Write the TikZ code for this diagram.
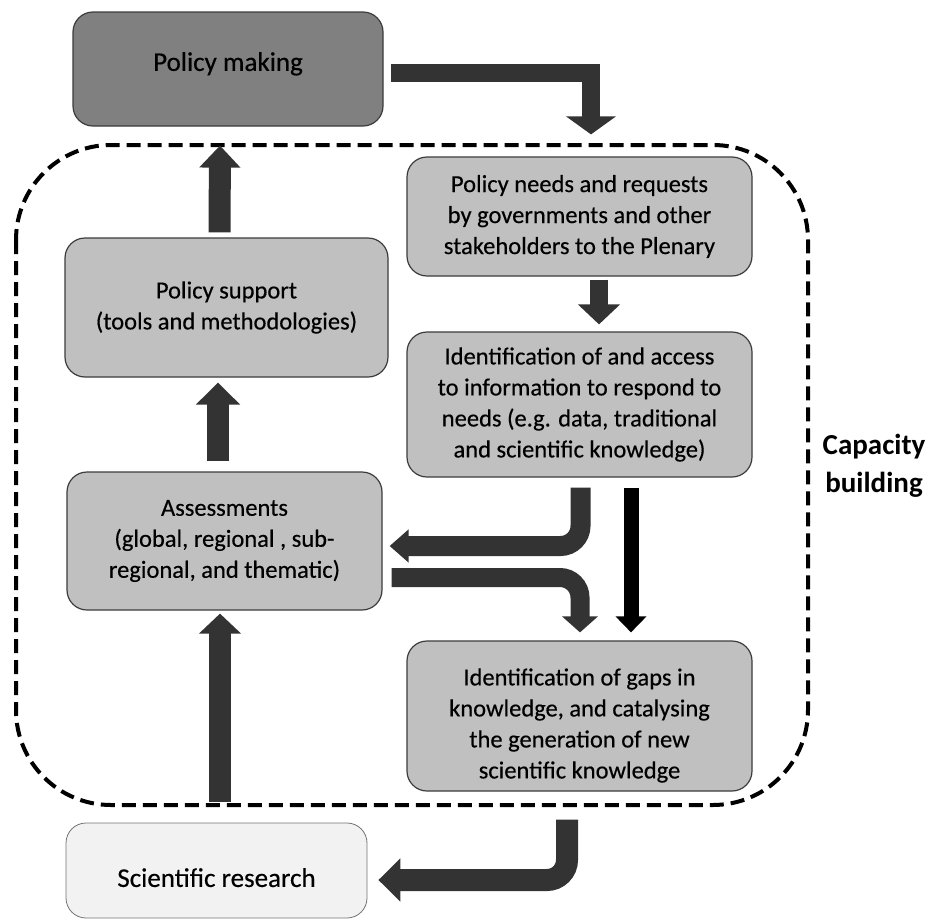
\documentclass[tikz,border=0pt]{standalone}
\usepackage{fontspec}
\setmainfont{Carlito}
\newfontfamily\boxfont{Carlito}[FakeBold=0.4]
\usetikzlibrary{arrows.meta}

\definecolor{arrowgray}{HTML}{333333}
\definecolor{darkbox}{HTML}{808080}
\definecolor{lightbox}{HTML}{C0C0C0}
\definecolor{paperbox}{HTML}{F2F2F2}
\definecolor{edgegray}{HTML}{3C3C3C}

\tikzset{
  box/.style={draw=edgegray, line width=1.2pt, rounded corners=20pt,
    fill=lightbox, align=center, inner sep=4pt,
    font=\boxfont\fontsize{24.5}{31}\selectfont},
  bigtext/.style={font=\boxfont\fontsize{27}{33}\selectfont},
  blockarrow/.style n args={3}{draw=arrowgray, line width=#1,
    -{Triangle[width=#2,length=#3]}},
}

\begin{document}
\begin{tikzpicture}[x=1pt,y=-1pt,every node/.style={black}]
	\useasboundingbox (0,0) rectangle (930,921);

	% capacity building frame
	\draw[line width=4pt,dash pattern=on 14pt off 7pt,rounded corners=95pt]
		(16,145) rectangle (808,805);

	\node[box,bigtext,fill=darkbox,text depth=15pt,minimum width=310pt,minimum height=114pt] (policy) at (228,69) {Policy making};
	\node[box,minimum width=323pt,minimum height=139pt] (support) at (226.5,307.5) {Policy support\\(tools and methodologies)};
	\node[box,minimum width=315pt,minimum height=138pt] (assess) at (224.5,541) {Assessments\\(global, regional , sub-\\regional, and thematic)};
	\node[box,bigtext,fill=paperbox,draw=black!55,line width=0.8pt,text height=33pt,minimum width=301pt,minimum height=95pt] (research) at (216.5,870.5) {Scientific research};

	\node[box,minimum width=345pt,minimum height=119pt] (needs) at (579.5,216.5) {Policy needs and requests\\by governments and other\\stakeholders to the Plenary};
	\node[box,minimum width=345pt,minimum height=145pt] (ident) at (579.5,404.5) {Identification of and access\\to information to respond to\\needs (e.g. data, traditional\\and scientific knowledge)};
	\node[box,text height=129pt,minimum width=345pt,minimum height=150pt] (gaps) at (579.5,716) {Identification of gaps in\\knowledge, and catalysing\\the generation of new\\scientific knowledge};

	\node[font=\bfseries\fontsize{29}{38}\selectfont,align=center] (cap) at (874,466) {Capacity\\building};

	% arrows
	\draw[blockarrow={18pt}{49pt}{18pt}] ([xshift=7pt,yshift=-4pt]policy.east) -| ([xshift=11.5pt,yshift=22pt]needs.north);
	\draw[blockarrow={22pt}{40pt}{22pt}] ([xshift=-7pt,yshift=5pt]support.north) -- ([xshift=-8pt,yshift=-19pt]policy.south);
	\draw[blockarrow={18pt}{41pt}{20pt}] ([xshift=19.5pt,yshift=-3pt]needs.south) -- ([xshift=19.5pt,yshift=7pt]ident.north);
	\draw[blockarrow={22pt}{43pt}{22pt}] ([xshift=-6.5pt,yshift=10pt]assess.north) -- ([xshift=-8.5pt,yshift=-5pt]support.south);
	\draw[blockarrow={20pt}{32pt}{19pt},rounded corners=20pt] ([xshift=1pt,yshift=-10pt]ident.south) |- ([xshift=7pt,yshift=-5pt]assess.east);
	\draw[blockarrow={15pt}{30pt}{16pt},draw=black] ([xshift=51.5pt,yshift=-10pt]ident.south) -- ([xshift=51.5pt,yshift=8pt]gaps.north);
	\draw[blockarrow={19pt}{35pt}{16pt},rounded corners=20pt] ([xshift=9pt,yshift=-36.5pt]assess.east) -| ([xshift=0.5pt,yshift=8pt]gaps.north);
	\draw[blockarrow={22pt}{41pt}{20pt}] ([xshift=3.5pt,yshift=21pt]research.north) -- ([xshift=-4.5pt,yshift=-3pt]assess.south);
	\draw[blockarrow={22pt}{42pt}{22pt},rounded corners=20pt] ([xshift=-12.5pt,yshift=-28pt]gaps.south) |- ([xshift=11pt,yshift=-9.5pt]research.east);
\end{tikzpicture}
\end{document}
